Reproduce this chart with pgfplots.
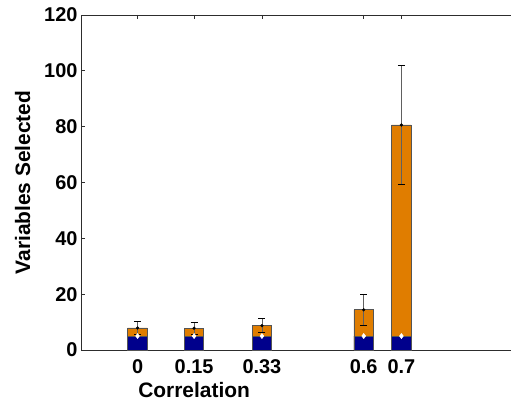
\documentclass[border=0pt]{standalone}
\usepackage{fontspec}
\setmainfont{Liberation Sans}
\usepackage{pgfplots}
\pgfplotsset{compat=1.18}

\definecolor{barblue}{RGB}{0,0,140}
\definecolor{barorange}{RGB}{224,125,0}
\definecolor{edgegray}{RGB}{85,85,85}
\definecolor{axisgray}{RGB}{45,45,45}

\begin{document}
\begin{tikzpicture}
\path[use as bounding box] (0,0) rectangle (511bp,404bp);
\clip (0,0) rectangle (511bp,404bp);
\begin{axis}[
    at={(81bp,54bp)}, anchor=south west,
    scale only axis,
    width=433.5bp, height=335bp,
    xmin=-0.15, xmax=1.0,
    ymin=0, ymax=120,
    ytick={0,20,...,120},
    xtick={0,0.15,0.33,0.6,0.7},
    xticklabels={0,0.15,0.33,0.6,0.7},
    tick align=inside,
    major tick length=4bp,
    axis line style={axisgray, line width=0.9bp},
    every tick/.style={axisgray, line width=0.8bp},
    /pgf/number format/assume math mode=true,
    ticklabel style={font=\fontsize{20}{20}\selectfont\bfseries},
    xticklabel style={yshift=-6bp},
    xlabel={Correlation},
    ylabel={Variables Selected},
    label style={font=\fontsize{21}{21}\selectfont\bfseries},
    xlabel style={at={(axis cs:0.15,0)}, anchor=base, yshift=-47bp},
    ylabel style={yshift=7bp},
    clip=false,
]
% totals (orange bars, full height)
\addplot[ybar, bar shift=0pt, bar width=0.052, fill=barorange, draw=edgegray, line width=0.8bp]
coordinates {
    (0, 7.9)
    (0.15, 7.8)
    (0.33, 8.7)
    (0.6, 14.4)
    (0.7, 80.6)
};
% bottom part (blue)
\addplot[ybar, bar shift=0pt, bar width=0.052, fill=barblue, draw=edgegray, line width=0.8bp]
coordinates {
    (0, 5.0)
    (0.15, 5.0)
    (0.33, 5.0)
    (0.6, 5.0)
    (0.7, 5.0)
};
% error bars on totals
\addplot[only marks, mark=*, mark size=1.4bp, black,
    error bars/.cd, y dir=both, y explicit,
    error bar style={gray!75!black, line width=0.8bp},
    error mark options={black, rotate=90, mark size=3.5bp, line width=0.9bp}]
coordinates {
    (0, 7.9) +- (0, 2.2)
    (0.15, 7.8) +- (0, 2.2)
    (0.33, 8.7) +- (0, 2.5)
    (0.6, 14.4) +- (0, 5.6)
    (0.7, 80.6) +- (0, 21.4)
};
% white markers on the blue parts
\addplot[only marks, mark=diamond*, mark size=2.6bp, white]
coordinates {
    (0, 5.0)
    (0.15, 5.0)
    (0.33, 5.0)
    (0.6, 5.0)
    (0.7, 5.0)
};
\end{axis}
\end{tikzpicture}
\end{document}
